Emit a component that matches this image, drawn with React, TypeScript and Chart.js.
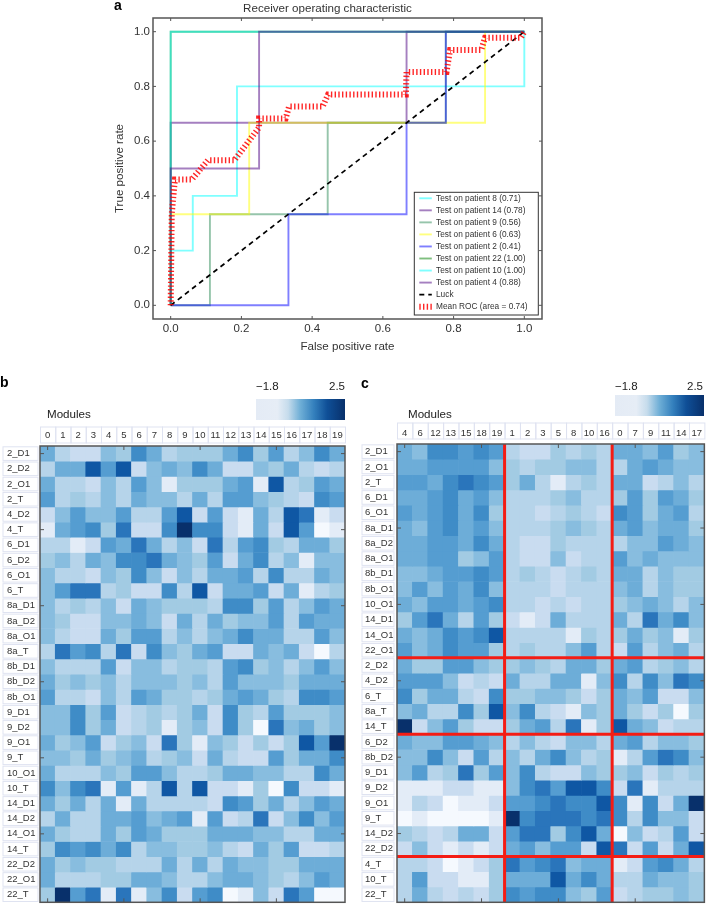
import React, { useEffect, useRef } from "react";
import { Chart, registerables } from "chart.js";

Chart.register(...registerables);

const FONT = '"Liberation Sans", Arial, sans-serif';

// ---------- ROC data ----------
const rocTicks = [0, 0.2, 0.4, 0.6, 0.8, 1.0];
const p8X = [0, 0, 0.0625, 0.0625, 0.1875, 0.1875, 1, 1];
const p8Y = [0, 0.2, 0.2, 0.4, 0.4, 0.8, 0.8, 1];
const p14X = [0, 0, 0.667, 0.667, 1];
const p14Y = [0, 0.667, 0.667, 1, 1];
const p9X = [0, 0.111, 0.111, 0.444, 0.444, 0.778, 0.778, 1];
const p9Y = [0, 0, 0.333, 0.333, 0.667, 0.667, 1, 1];
const p6X = [0, 0, 0.222, 0.222, 0.889, 0.889, 1];
const p6Y = [0, 0.333, 0.333, 0.667, 0.667, 1, 1];
const p2X = [0, 0.333, 0.333, 0.667, 0.667, 0.778, 0.778, 1];
const p2Y = [0, 0, 0.333, 0.333, 0.667, 0.667, 1, 1];
const p22X = [0, 0, 1];
const p22Y = [0, 1, 1];
const p10X = [0, 0, 1];
const p10Y = [0, 1, 1];
const p4X = [0, 0, 0.25, 0.25, 1];
const p4Y = [0, 0.5, 0.5, 1, 1];
const luckX = [0, 1];
const luckY = [0, 1];
const meanX = [0, 0.003, 0.012, 0.06, 0.105, 0.18, 0.25, 0.25, 0.325, 0.335, 0.43, 0.445, 0.665, 0.667, 0.78, 0.79, 0.878, 0.889, 0.99, 1];
const meanY = [0, 0.335, 0.46, 0.46, 0.53, 0.53, 0.65, 0.683, 0.683, 0.727, 0.727, 0.77, 0.77, 0.853, 0.853, 0.933, 0.933, 0.978, 0.978, 1];

const toPts = (xs: number[], ys: number[]) => xs.map((x, i) => ({ x, y: ys[i] }));

// ---------- Heatmap b ----------
const bCols = ["0","1","2","3","4","5","6","7","8","9","10","11","12","13","14","15","16","17","18","19"];
const bRows = ["2_D1","2_D2","2_O1","2_T","4_D2","4_T","6_D1","6_D2","6_O1","6_T","8a_D1","8a_D2","8a_O1","8a_T","8b_D1","8b_D2","8b_O1","9_D1","9_D2","9_O1","9_T","10_O1","10_T","14_D1","14_D2","14_O1","14_T","22_D2","22_O1","22_T"];
const bLevels = [
  [6,3,2,2,5,4,8,6,3,4,4,4,6,8,4,7,3,5,8,6],
  [3,6,6,10,7,10,2,5,6,5,8,6,2,2,5,4,6,3,2,3],
  [6,3,3,2,5,3,7,5,1,4,4,4,6,7,1,10,3,4,7,6],
  [7,3,4,3,5,3,6,5,5,3,6,3,7,7,5,4,3,2,8,7],
  [2,5,7,5,5,7,3,3,7,10,2,7,2,1,6,3,10,9,1,2],
  [1,6,7,8,4,9,2,2,8,11,8,8,2,1,6,2,10,7,0,1],
  [3,3,1,2,7,6,9,6,3,5,2,9,3,7,8,4,3,6,6,4],
  [4,5,3,6,5,8,8,9,6,5,4,7,2,6,8,3,5,1,5,5],
  [5,3,3,2,5,4,8,5,2,5,3,6,6,7,3,8,3,3,6,5],
  [5,7,9,9,3,4,2,2,8,3,10,2,6,6,7,2,6,1,3,4],
  [5,3,4,3,5,2,6,5,4,4,4,3,8,8,4,7,3,5,7,6],
  [5,4,2,2,5,5,6,5,2,6,3,6,4,5,5,7,3,7,6,6],
  [5,3,2,2,6,4,7,7,3,5,3,5,6,8,6,6,3,3,7,5],
  [3,9,7,8,3,9,2,8,5,4,6,7,2,2,6,5,6,2,0,3],
  [5,3,3,3,7,2,5,5,3,4,4,3,7,8,4,5,3,5,7,5],
  [6,4,5,4,5,3,5,5,5,4,5,3,7,5,5,5,4,6,6,6],
  [7,3,3,2,5,3,7,6,4,4,3,4,6,7,6,4,3,8,8,7],
  [5,5,8,4,7,2,3,4,3,4,6,2,8,4,3,7,4,4,4,5],
  [5,5,8,4,6,2,3,4,1,4,5,2,8,4,0,9,5,6,4,5],
  [6,4,5,7,2,4,5,2,9,4,1,5,4,2,4,2,4,10,7,11],
  [5,5,4,6,4,5,6,3,4,5,2,6,3,2,2,7,4,6,6,8],
  [6,3,3,3,5,4,7,7,5,3,3,4,6,6,5,5,3,3,8,6],
  [8,5,8,9,1,7,1,3,10,3,10,2,2,1,4,0,8,2,2,1],
  [6,4,6,3,6,1,6,3,3,3,3,2,8,7,4,6,3,5,7,6],
  [3,6,3,3,6,6,7,5,6,7,1,7,2,3,9,2,5,8,5,7],
  [6,4,3,3,6,4,7,6,4,4,4,6,6,6,5,5,3,3,6,6],
  [4,8,7,8,6,8,3,5,5,4,4,5,3,2,6,4,7,2,2,3],
  [6,4,5,4,4,3,3,3,6,3,6,3,6,5,5,4,4,6,6,6],
  [6,3,3,3,4,4,6,6,5,3,3,5,6,6,5,4,3,5,7,6],
  [4,11,7,9,1,9,1,5,8,2,7,8,0,1,5,2,9,7,0,0],
];

// ---------- Heatmap c ----------
const cCols = ["4","6","12","13","15","18","19","1","2","3","5","8","10","16","0","7","9","11","14","17"];
const cRows = ["2_D1","2_O1","2_T","6_D1","6_O1","8a_D1","8a_D2","8a_O1","8b_D1","8b_O1","10_O1","14_D1","14_O1","22_O1","2_D2","4_D2","6_T","8a_T","14_T","6_D2","8b_D2","9_D1","9_D2","9_O1","9_T","14_D2","22_D2","4_T","10_T","22_T"];
const cLevels = [
  [6,5,8,8,7,8,7,3,2,2,4,3,4,3,6,6,5,7,4,5],
  [6,6,7,7,7,7,5,4,3,4,4,5,5,3,3,6,7,6,5,5],
  [7,7,6,8,9,8,7,4,6,3,1,3,4,3,6,6,2,3,5,3],
  [6,6,7,8,6,7,5,3,3,3,4,5,3,3,4,7,4,7,6,4],
  [7,6,7,8,6,8,4,3,3,2,3,4,3,2,8,7,4,6,7,3],
  [6,5,7,8,6,7,5,3,3,3,4,5,4,3,6,7,5,6,6,4],
  [6,6,7,7,6,8,6,3,2,2,4,3,3,3,3,5,5,7,6,5],
  [6,6,7,7,4,5,7,3,2,2,5,2,3,3,7,5,6,5,5,5],
  [5,5,6,7,7,8,7,3,4,3,2,3,4,3,6,6,3,5,4,4],
  [5,7,5,7,6,8,5,3,3,3,2,3,3,3,5,6,3,5,4,4],
  [6,5,7,7,6,7,8,3,3,2,3,2,3,3,4,5,6,5,3,5],
  [4,7,9,6,3,7,4,2,1,2,6,3,3,3,6,3,9,6,8,5],
  [6,5,6,8,7,8,10,3,3,3,3,1,4,3,4,6,4,5,1,4],
  [7,5,6,8,7,7,4,3,4,3,3,5,7,3,2,7,3,5,6,3],
  [6,4,4,7,7,5,4,4,5,4,3,6,6,4,6,7,3,4,5,3],
  [7,7,7,5,2,3,2,6,3,3,6,6,1,5,8,3,8,5,9,8],
  [8,4,6,6,3,2,8,4,4,5,5,4,2,4,6,5,7,2,2,5],
  [5,6,3,3,8,4,10,5,8,3,2,1,5,4,6,4,2,4,0,4],
  [11,2,5,7,4,2,2,4,6,7,3,9,1,4,10,6,5,2,3,3],
  [6,5,5,7,7,6,5,3,5,3,2,5,5,3,6,7,3,5,5,4],
  [5,5,8,5,2,7,3,5,3,6,8,5,3,4,1,3,7,9,8,5],
  [5,7,3,4,9,4,7,5,8,3,2,2,5,4,4,5,2,4,3,4],
  [1,1,1,2,2,1,1,5,8,9,7,10,10,8,2,9,1,3,3,3],
  [1,3,2,0,1,1,2,7,7,8,9,8,8,10,8,1,8,2,6,11],
  [0,1,0,0,0,0,1,11,8,9,9,9,8,9,8,3,8,5,5,2],
  [4,3,2,3,6,6,2,7,9,9,4,8,10,6,0,5,2,3,7,2],
  [2,5,2,1,2,1,2,6,7,5,7,7,2,10,9,2,7,2,6,10],
  [3,3,2,0,1,2,4,9,7,8,9,5,6,6,1,2,7,8,6,3],
  [3,7,2,2,1,1,4,6,6,6,10,6,8,6,3,3,6,5,5,4],
  [3,6,3,2,3,2,4,8,7,8,8,5,4,7,2,3,4,4,5,4],
];
const cColSeps = [7, 14];
const cRowSeps = [14, 19, 27];

const levelColors = ["#f5f9fe","#e3ecf7","#c9dcf0","#b6d4ea","#a2cbe3","#88bddf","#6dadd8","#559dd1","#3f8cc7","#2a75bb","#0f57a4","#08306b"];

const FRAME = "#555555";
const BOX = "#dfe3f1";

// ---------- plugins ----------
const heatPlugin = (colSeps: number[], rowSeps: number[], boxTop: number, boxBottom: number, boxLeft: number, boxRight: number) => ({
  id: "heatDeco",
  beforeDatasetsDraw(chart: any) {
    const { ctx, scales } = chart;
    const xs = scales.x;
    const ys = scales.y;
    ctx.save();
    ctx.strokeStyle = BOX;
    ctx.lineWidth = 1;
    const n = xs.ticks.length;
    const w = xs.getPixelForTick(1) - xs.getPixelForTick(0);
    for (let i = 0; i < n; i++) {
      const c = xs.getPixelForTick(i);
      ctx.strokeRect(c - w / 2 + 0.5, boxTop, w, boxBottom - boxTop);
    }
    for (let i = 0; i < ys.ticks.length; i++) {
      const c = ys.getPixelForTick(i);
      ctx.strokeRect(boxLeft, c - 6.8, boxRight - boxLeft, 13.6);
    }
    ctx.restore();
  },
  afterDatasetsDraw(chart: any) {
    const { ctx, chartArea: a, scales } = chart;
    const xs = scales.x;
    const ys = scales.y;
    ctx.save();
    const w = xs.getPixelForTick(1) - xs.getPixelForTick(0);
    ctx.strokeStyle = "#f41c14";
    ctx.lineWidth = 3;
    colSeps.forEach((i) => {
      const x = xs.getPixelForTick(i) - w / 2;
      ctx.beginPath(); ctx.moveTo(x, a.top); ctx.lineTo(x, a.bottom); ctx.stroke();
    });
    rowSeps.forEach((i) => {
      const y = ys.getPixelForValue(i);
      ctx.beginPath(); ctx.moveTo(a.left, y); ctx.lineTo(a.right, y); ctx.stroke();
    });
    ctx.strokeStyle = FRAME;
    ctx.lineWidth = 1;
    for (let i = 0; i < xs.ticks.length; i += 5) {
      const x = xs.getPixelForTick(i);
      ctx.beginPath();
      ctx.moveTo(x, a.top); ctx.lineTo(x, a.top + 4);
      ctx.moveTo(x, a.bottom); ctx.lineTo(x, a.bottom - 4);
      ctx.stroke();
    }
    for (let i = 0; i < ys.ticks.length; i += 5) {
      const y = ys.getPixelForTick(i);
      ctx.beginPath();
      ctx.moveTo(a.left, y); ctx.lineTo(a.left + 4, y);
      ctx.moveTo(a.right, y); ctx.lineTo(a.right - 4, y);
      ctx.stroke();
    }
    ctx.lineWidth = 1.5;
    ctx.strokeRect(a.left, a.top, a.right - a.left, a.bottom - a.top);
    ctx.restore();
  },
});

const rocPlugin = {
  id: "rocDeco",
  afterDatasetsDraw(chart: any) {
    const { ctx, chartArea: a, scales, data } = chart;
    ctx.save();
    ctx.strokeStyle = FRAME;
    ctx.lineWidth = 1;
    rocTicks.forEach((v) => {
      const x = scales.x.getPixelForValue(v);
      const y = scales.y.getPixelForValue(v);
      ctx.beginPath();
      ctx.moveTo(x, a.top); ctx.lineTo(x, a.top + 3);
      ctx.moveTo(x, a.bottom); ctx.lineTo(x, a.bottom - 3);
      ctx.moveTo(a.left, y); ctx.lineTo(a.left + 3, y);
      ctx.moveTo(a.right, y); ctx.lineTo(a.right - 3, y);
      ctx.stroke();
    });
    ctx.lineWidth = 1.5;
    ctx.strokeRect(a.left, a.top, a.right - a.left, a.bottom - a.top);

    // legend box, right-hand bottom corner of the axes
    const bx = a.right - 127.7;
    const by = a.bottom - 126.7;
    const bw = 124;
    const bh = 122.7;
    ctx.fillStyle = "#ffffff";
    ctx.fillRect(bx, by, bw, bh);
    ctx.strokeStyle = "#333333";
    ctx.lineWidth = 1;
    ctx.strokeRect(bx, by, bw, bh);
    ctx.font = `8.3px ${FONT}`;
    ctx.textBaseline = "middle";
    ctx.textAlign = "left";
    data.datasets.forEach((d: any, i: number) => {
      const y = by + 6 + i * 12.04;
      ctx.save();
      ctx.strokeStyle = d.borderColor;
      ctx.lineWidth = d.borderWidth;
      ctx.setLineDash(d.borderDash || []);
      ctx.beginPath();
      ctx.moveTo(bx + 5, y);
      ctx.lineTo(bx + 17.5, y);
      ctx.stroke();
      ctx.restore();
      ctx.fillStyle = "#333333";
      ctx.fillText(d.label, bx + 21.7, y);
    });
    ctx.restore();
  },
};

function heatConfig(cols: string[], rows: string[], levels: number[][], plugin: any, pad: any, xH: number, yW: number): any {
  return {
    type: "bar",
    data: {
      labels: cols,
      datasets: rows.map((r, i) => ({
        label: r,
        data: levels[i].map(() => [i, i + 1]),
        backgroundColor: levels[i].map((l) => levelColors[l]),
        borderWidth: 0,
        grouped: false,
        barPercentage: 1,
        categoryPercentage: 1,
      })),
    },
    options: {
      responsive: false,
      animation: false,
      events: [],
      layout: { padding: pad },
      plugins: { legend: { display: false }, tooltip: { enabled: false } },
      scales: {
        x: {
          position: "top",
          grid: { display: false, drawTicks: false },
          border: { display: false },
          ticks: { font: { family: FONT, size: 9.5 }, color: "#333", padding: 5, maxRotation: 0, autoSkip: false },
          afterFit: (s: any) => { s.height = xH; },
        },
        y: {
          type: "linear",
          reverse: true,
          min: 0,
          max: rows.length,
          grid: { display: false, drawTicks: false },
          border: { display: false },
          afterBuildTicks: (s: any) => { s.ticks = rows.map((_, i) => ({ value: i + 0.5 })); },
          ticks: {
            font: { family: FONT, size: 9.5 },
            color: "#333",
            padding: 0,
            crossAlign: "far",
            autoSkip: false,
            callback: (v: number) => rows[Math.round(v - 0.5)],
          },
          afterFit: (s: any) => { s.width = yW; },
        },
      },
    },
    plugins: [plugin],
  };
}

function rocConfig(): any {
  const series: [string, number[], number[], string][] = [
    ["Test on patient 8 (0.71)", p8X, p8Y, "rgba(0,255,255,0.5)"],
    ["Test on patient 14 (0.78)", p14X, p14Y, "rgba(75,0,130,0.5)"],
    ["Test on patient 9 (0.56)", p9X, p9Y, "rgba(46,139,87,0.5)"],
    ["Test on patient 6 (0.63)", p6X, p6Y, "rgba(255,255,0,0.5)"],
    ["Test on patient 2 (0.41)", p2X, p2Y, "rgba(0,0,255,0.5)"],
    ["Test on patient 22 (1.00)", p22X, p22Y, "rgba(0,128,0,0.5)"],
    ["Test on patient 10 (1.00)", p10X, p10Y, "rgba(0,255,255,0.5)"],
    ["Test on patient 4 (0.88)", p4X, p4Y, "rgba(75,0,130,0.5)"],
  ];
  const datasets: any[] = series.map(([label, xs, ys, c], i) => ({
    label,
    data: toPts(xs, ys),
    showLine: true,
    borderColor: c,
    borderWidth: 1.9,
    pointRadius: 0,
    order: 20 - i,
  }));
  datasets.push({ label: "Luck", data: toPts(luckX, luckY), showLine: true, borderColor: "#000", borderWidth: 1.7, borderDash: [5, 4], pointRadius: 0, order: 2 });
  datasets.push({ label: "Mean ROC (area = 0.74)", data: toPts(meanX, meanY), showLine: true, borderColor: "rgba(255,0,0,0.85)", borderWidth: 6, borderDash: [1.4, 2.3], pointRadius: 0, order: 1 });
  const tickFont = { family: FONT, size: 11.5 };
  return {
    type: "scatter",
    data: { datasets },
    options: {
      responsive: false,
      animation: false,
      events: [],
      layout: { padding: { left: 13, right: 18, top: 0, bottom: 11 } },
      plugins: {
        legend: { display: false },
        tooltip: { enabled: false },
        title: {
          display: true,
          text: "Receiver operating characteristic",
          color: "#333",
          font: { family: FONT, size: 11.6, weight: "normal" },
          padding: { top: 2, bottom: 2.08 },
        },
      },
      scales: {
        x: {
          type: "linear",
          min: -0.05,
          max: 1.05,
          grid: { display: false, drawTicks: false },
          border: { display: false },
          afterBuildTicks: (s: any) => { s.ticks = rocTicks.map((value) => ({ value })); },
          ticks: { font: tickFont, color: "#333", padding: 3, maxRotation: 0, callback: (v: number) => v.toFixed(1) },
          title: { display: true, text: "False positive rate", color: "#333", font: { family: FONT, size: 11.6 }, padding: 0 },
          afterFit: (s: any) => { s.height = 35; },
        },
        y: {
          type: "linear",
          min: -0.05,
          max: 1.05,
          grid: { display: false, drawTicks: false },
          border: { display: false },
          afterBuildTicks: (s: any) => { s.ticks = rocTicks.map((value) => ({ value })); },
          ticks: { font: tickFont, color: "#333", padding: 3, callback: (v: number) => v.toFixed(1) },
          title: { display: true, text: "True positive rate", color: "#333", font: { family: FONT, size: 11.6 }, padding: 0 },
          afterFit: (s: any) => { s.width = 40; },
        },
      },
    },
    plugins: [rocPlugin],
  };
}

const CBAR = "linear-gradient(to right,#e4ebf5 0%,#e6edf6 24%,#c6dcec 36%,#6eaed6 50%,#3480bd 65%,#0f4f97 80%,#08306b 100%)";

const txt = (left: number, top: number, s: string, size: number, extra: any = {}) => (
  <div style={{ position: "absolute", left, top, fontFamily: FONT, fontSize: size, lineHeight: "14px", color: "#222", whiteSpace: "nowrap", ...extra }}>{s}</div>
);

export default function App() {
  const rocRef = useRef<HTMLCanvasElement>(null);
  const bRef = useRef<HTMLCanvasElement>(null);
  const cRef = useRef<HTMLCanvasElement>(null);

  useEffect(() => {
    const charts = [
      new Chart(rocRef.current!, rocConfig()),
      new Chart(bRef.current!, heatConfig(bCols, bRows, bLevels, heatPlugin([], [], 52, 68, 3, 38), { left: 7, right: 7, top: 49, bottom: 4 }, 22, 33)),
      new Chart(cRef.current!, heatConfig(cCols, cRows, cLevels, heatPlugin(cColSeps, cRowSeps, 48, 64, 7, 39), { left: 10, right: 1.3, top: 47, bottom: 2.3 }, 22, 32)),
    ];
    return () => charts.forEach((c) => c.destroy());
  }, []);

  return (
    <div style={{ position: "fixed", left: 0, top: 0, width: 707, height: 908, overflow: "hidden", background: "#fff" }}>
      <canvas ref={rocRef} width={460} height={365} style={{ position: "absolute", left: 100, top: 0, width: 460, height: 365 }} />
      <canvas ref={bRef} width={352} height={533} style={{ position: "absolute", left: 0, top: 375, width: 352, height: 533 }} />
      <canvas ref={cRef} width={352} height={533} style={{ position: "absolute", left: 355, top: 375, width: 352, height: 533 }} />
      {txt(114, -2, "a", 14, { fontWeight: "bold", color: "#000" })}
      {txt(0, 375, "b", 14, { fontWeight: "bold", color: "#000" })}
      {txt(361, 376, "c", 14, { fontWeight: "bold", color: "#000" })}
      {txt(47, 407, "Modules", 11.6)}
      {txt(408, 407, "Modules", 11.6)}
      {txt(256, 379, "\u22121.8", 11.5)}
      {txt(329, 379, "2.5", 11.5)}
      <div style={{ position: "absolute", left: 256, top: 399, width: 89, height: 21, background: CBAR }} />
      {txt(615, 379, "\u22121.8", 11.5)}
      {txt(687, 379, "2.5", 11.5)}
      <div style={{ position: "absolute", left: 615, top: 395, width: 89, height: 21, background: CBAR }} />
    </div>
  );
}
